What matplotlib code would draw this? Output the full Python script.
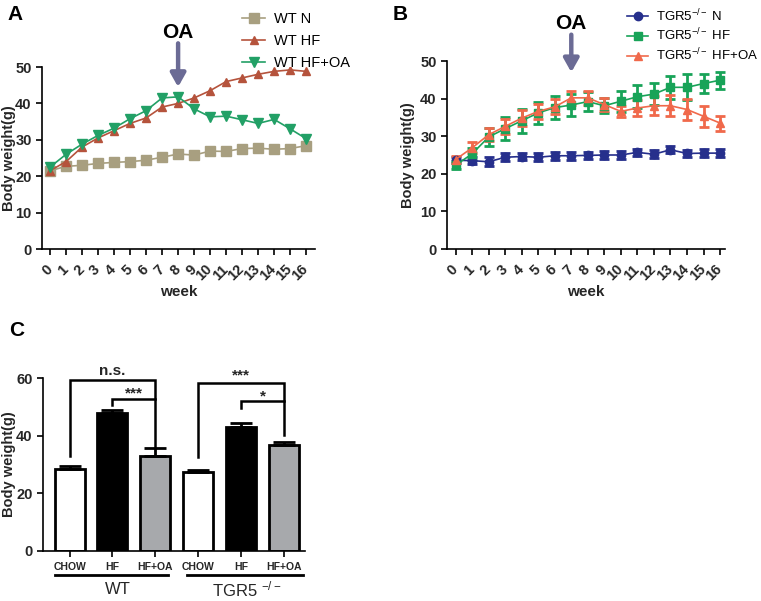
import numpy as np
import matplotlib
matplotlib.use("Agg")
import matplotlib.pyplot as plt

plt.rcParams['font.family'] = ['Liberation Sans', 'DejaVu Sans']
plt.rcParams['mathtext.fontset'] = 'custom'
plt.rcParams['mathtext.rm'] = 'Liberation Sans'
plt.rcParams['mathtext.it'] = 'Liberation Sans:italic'
plt.rcParams['mathtext.bf'] = 'Liberation Sans:bold'

# ---- data ----
weeks = list(range(17))
wt_n = [21.5, 22.7, 23.0, 23.5, 23.8, 24.0, 24.4, 25.2, 26.1, 25.8, 26.9, 26.8, 27.6, 27.7, 27.4, 27.6, 28.4]
wt_hf = [21.5, 24.0, 28.0, 30.5, 32.5, 34.5, 36.0, 39.0, 40.0, 41.5, 43.5, 46.0, 47.0, 48.0, 48.8, 49.2, 48.8]
wt_hfoa = [22.5, 26.0, 28.8, 31.2, 33.2, 35.8, 38.0, 41.5, 41.8, 38.5, 36.3, 36.5, 35.5, 34.5, 35.6, 33.0, 30.3]

ko_n = [23.6, 23.5, 23.2, 24.4, 24.6, 24.4, 24.8, 24.8, 24.9, 25.0, 25.0, 25.7, 25.2, 26.4, 25.4, 25.5, 25.5]
ko_n_err = [0.8, 1.0, 1.2, 1.0, 1.0, 1.0, 1.0, 1.0, 1.0, 1.0, 1.0, 1.0, 1.0, 0.9, 1.0, 1.0, 1.0]
ko_hf = [22.3, 25.3, 29.8, 32.0, 34.1, 36.2, 37.6, 38.3, 39.2, 38.1, 39.3, 40.5, 41.2, 43.0, 43.0, 44.0, 44.9]
ko_hf_err = [1.0, 1.5, 2.5, 3.0, 3.2, 3.0, 3.0, 2.8, 2.5, 2.0, 2.8, 3.0, 3.0, 3.0, 3.5, 2.5, 2.3]
ko_hfoa = [23.8, 26.9, 30.4, 32.6, 34.8, 36.6, 37.8, 40.2, 40.2, 38.4, 36.6, 37.5, 38.1, 38.1, 37.1, 35.3, 33.5]
ko_hfoa_err = [1.0, 1.5, 1.8, 2.0, 2.2, 2.0, 2.0, 1.8, 1.8, 1.8, 1.5, 2.2, 2.5, 2.8, 2.8, 2.8, 2.0]

bar_labels = ['CHOW', 'HF', 'HF+OA', 'CHOW', 'HF', 'HF+OA']
bar_vals = [28.5, 48.0, 32.8, 27.3, 43.0, 36.7]
bar_errs = [1.0, 1.0, 3.0, 0.9, 1.5, 1.2]
bar_colors = ['white', 'black', '#a7a9ac', 'white', 'black', '#a7a9ac']

W, H = 761, 601
fig = plt.figure(figsize=(W / 100, H / 100), dpi=100)
TXT = '#262626'


def px_axes(left, top, right, bottom):
    return fig.add_axes([left / W, 1 - bottom / H, (right - left) / W, (bottom - top) / H])


def style_axes(ax):
    for s in ['top', 'right']:
        ax.spines[s].set_visible(False)
    for s in ['left', 'bottom']:
        ax.spines[s].set_linewidth(1.2)
    ax.tick_params(width=1.2, length=4, labelsize=10.5, labelcolor=TXT)
    for lab in ax.get_xticklabels() + ax.get_yticklabels():
        lab.set_fontweight('bold')


def week_ticks(ax):
    ax.set_xticks(weeks)
    ax.set_xticklabels([str(w) for w in weeks], rotation=45, ha='right',
                       va='center', rotation_mode='anchor')
    ax.tick_params(axis='x', pad=9)


def ylabel_at(ax, x_px):
    ax.set_ylabel('Body weight(g)', fontsize=10.5, fontweight='bold', color=TXT)
    bb = ax.get_position()
    ax.yaxis.set_label_coords((x_px / W - bb.x0) / bb.width, 0.5)


def oa_arrow(ax, x, y_top, y_bot, y_txt):
    ax.annotate('', xy=(x, y_bot), xytext=(x, y_top), annotation_clip=False,
                arrowprops=dict(arrowstyle='-|>,head_width=0.45,head_length=0.8',
                                color='#6b6b95', lw=3.2, shrinkA=0, shrinkB=0))
    ax.text(x, y_txt, 'OA', ha='center', va='center', fontsize=15,
            fontweight='bold', clip_on=False)


# ---- panel A ----
axA = px_axes(42, 67, 315, 249)
axA.plot(weeks, wt_n, '-s', color='#a89f80', ms=6.5, lw=1.2, label='WT N')
axA.plot(weeks, wt_hf, '-^', color='#b5533c', ms=6, lw=1.2, label='WT HF')
axA.plot(weeks, wt_hfoa, '-v', color='#22a066', ms=6.5, lw=1.2, label='WT HF+OA')
axA.set_xlim(-0.5, 16.55)
axA.set_ylim(0, 50)
week_ticks(axA)
axA.set_yticks(range(0, 51, 10))
axA.set_xlabel('week', fontsize=11, fontweight='bold', labelpad=1, color=TXT)
ylabel_at(axA, 16)
style_axes(axA)
axA.legend(loc='upper left', bbox_to_anchor=(236 / W, 1 - 6 / H), bbox_transform=fig.transFigure,
           frameon=False, fontsize=10.5, handlelength=1.6, labelspacing=0.55, handletextpad=0.6,
           borderaxespad=0)
oa_arrow(axA, 8, 56.5, 44.5, 59.5)

# ---- panel B ----
axB = px_axes(447, 61, 725, 249)
eb = dict(capsize=3.5, elinewidth=2, capthick=2, lw=1.2)
axB.errorbar(weeks, ko_n, yerr=ko_n_err, fmt='-o', color='#262f8c', ms=6, label='TGR5$^{-/-}$ N', **eb)
axB.errorbar(weeks, ko_hf, yerr=ko_hf_err, fmt='-s', color='#18a358', ms=6, label='TGR5$^{-/-}$ HF', **eb)
axB.errorbar(weeks, ko_hfoa, yerr=ko_hfoa_err, fmt='-^', color='#f0694b', ms=6, label='TGR5$^{-/-}$ HF+OA', **eb)
axB.set_xlim(-0.52, 16.3)
axB.set_ylim(0, 50)
week_ticks(axB)
axB.set_yticks(range(0, 51, 10))
axB.set_xlabel('week', fontsize=11, fontweight='bold', labelpad=1, color=TXT)
ylabel_at(axB, 415)
style_axes(axB)
hB, lB = axB.get_legend_handles_labels()
axB.legend([h[0] for h in hB], lB, loc='upper left', bbox_to_anchor=(622 / W, 1 - 2 / H),
           bbox_transform=fig.transFigure, frameon=False, fontsize=9.5, handlelength=1.6,
           labelspacing=0.25, handletextpad=0.6, borderaxespad=0)
oa_arrow(axB, 7, 57, 47, 60)

# ---- panel C ----
axC = px_axes(43, 378, 305, 551)
xpos = np.arange(len(bar_vals))
axC.bar(xpos, bar_vals, width=0.7, color=bar_colors, edgecolor='black', linewidth=2,
        yerr=[[0] * len(bar_errs), bar_errs], capsize=8,
        error_kw=dict(elinewidth=2, capthick=2, ecolor='black'))
axC.set_xlim(-0.62, 5.49)
axC.set_ylim(0, 60)
axC.set_yticks([0, 20, 40, 60])
axC.set_xticks(xpos)
axC.set_xticklabels(bar_labels)
ylabel_at(axC, 16)
style_axes(axC)
axC.tick_params(axis='x', labelsize=7.5, pad=4)


def bracket(ax, x1, x2, y1, y2, h, txt, ty):
    ax.plot([x1, x1, x2, x2], [y1, h, h, y2], color='black', lw=1.8, clip_on=False,
            solid_joinstyle='miter')
    ax.text((x1 + x2) / 2, ty, txt, ha='center', va='center', fontsize=11, fontweight='bold',
            clip_on=False, color=TXT)


bracket(axC, 0, 2, 33, 36, 59.3, 'n.s.', 62.5)
bracket(axC, 1, 2, 50.8, 52.8, 52.8, '***', 54.6)
bracket(axC, 3, 5, 32.6, 40.4, 58.1, '***', 61.0)
bracket(axC, 4, 5, 49.7, 52.0, 52.0, '*', 53.6)

tr = axC.get_xaxis_transform()
axC.plot([-0.35, 2.29], [-0.139, -0.139], color='black', lw=2, transform=tr, clip_on=False)
axC.plot([2.73, 5.44], [-0.139, -0.139], color='black', lw=2, transform=tr, clip_on=False)
axC.text(1.12, -0.225, 'WT', transform=tr, ha='center', va='center', fontsize=12, color=TXT)
axC.text(4.14, -0.225, 'TGR5 $^{-/-}$', transform=tr, ha='center', va='center', fontsize=12, color=TXT)

# panel letters
fig.text(15 / W, 1 - 15 / H, 'A', fontsize=15, fontweight='bold', ha='center', va='center')
fig.text(400 / W, 1 - 15 / H, 'B', fontsize=15, fontweight='bold', ha='center', va='center')
fig.text(17 / W, 1 - 330 / H, 'C', fontsize=15, fontweight='bold', ha='center', va='center')

fig.savefig('out.png', dpi=100)
